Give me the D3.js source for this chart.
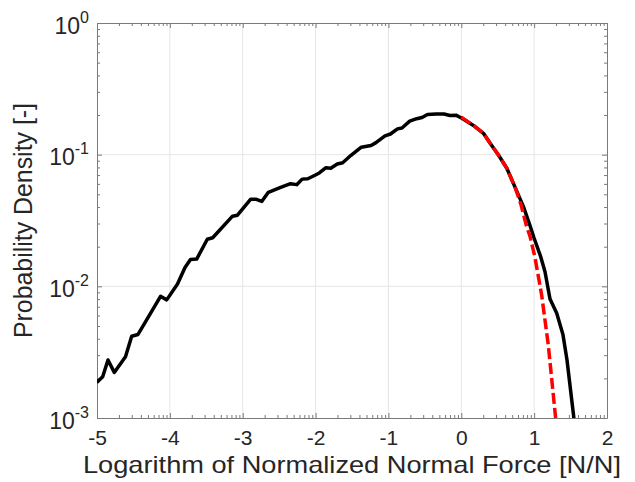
<!DOCTYPE html>
<html>
<head>
<meta charset="utf-8">
<script src="https://cdn.jsdelivr.net/npm/d3@7"></script>
<style>
  html, body { margin: 0; padding: 0; background: #fff; }
  svg { display: block; }
  text { font-family: "Liberation Sans", Arial, Helvetica, sans-serif; fill: #262626; }
</style>
</head>
<body>
<svg id="chart" width="635" height="482"></svg>
<script>
// ---- data ----
const measuredX = [-5.004,-4.922,-4.849,-4.763,-4.609,-4.524,-4.437,-4.341,-4.128,-4.043,-3.895,-3.792,-3.717,-3.632,-3.486,-3.412,-3.140,-3.072,-2.890,-2.822,-2.739,-2.648,-2.488,-2.344,-2.259,-2.184,-2.107,-2.008,-1.949,-1.857,-1.792,-1.702,-1.628,-1.514,-1.372,-1.239,-1.171,-1.047,-0.972,-0.876,-0.814,-0.708,-0.612,-0.539,-0.464,-0.347,-0.237,-0.155,-0.073,0.008,0.167,0.304,0.396,0.510,0.625,0.739,0.853,0.943,1.000,1.090,1.149,1.218,1.310,1.396,1.451,1.550];
const measuredY = [0.00186,0.00206,0.00276,0.00222,0.00292,0.00418,0.00431,0.0053,0.0084,0.00789,0.0104,0.0139,0.0160,0.0161,0.0228,0.0234,0.0341,0.0347,0.0459,0.0459,0.0441,0.0518,0.0561,0.0602,0.0592,0.0652,0.0656,0.0698,0.0726,0.0796,0.0788,0.0849,0.0869,0.0989,0.114,0.1175,0.1234,0.139,0.1436,0.157,0.1595,0.1796,0.1876,0.1916,0.2018,0.2038,0.2038,0.1985,0.1995,0.189,0.1666,0.1453,0.122,0.0995,0.0788,0.0564,0.0403,0.029,0.0232,0.0168,0.0129,0.0080,0.00625,0.00428,0.00276,0.00095];
const fitX = [0.000,0.167,0.304,0.396,0.510,0.625,0.739,0.821,0.890,0.945,1.011,1.103,1.194,1.295,1.320];
const fitY = [0.193,0.1666,0.1453,0.122,0.0995,0.0788,0.0564,0.0415,0.0293,0.0238,0.0166,0.0086,0.00359,0.0010,0.0008];
const xTicks = [-5,-4,-3,-2,-1,0,1,2];
const yTicks = [1e-3,1e-2,1e-1,1];
const yTickExps = ["-3","-2","-1","0"];
const xLabel = "Logarithm of Normalized Normal Force [N/N]";
const yLabel = "Probability Density [-]";

// ---- layout ----
const L = 97, T = 23, W = 510, H = 395;
const axisColor = "#7a7a7a";
const svg = d3.select("#chart");

const x = d3.scaleLinear().domain([-5, 2]).range([L, L + W]);
const y = d3.scaleLog().domain([1e-3, 1]).range([T + H, T]);

// grid
const grid = svg.append("g");
grid.selectAll("line.gx").data(xTicks.slice(1, -1)).join("line")
  .attr("x1", d => x(d)).attr("x2", d => x(d)).attr("y1", T).attr("y2", T + H)
  .attr("stroke", "#e6e6e6").attr("stroke-width", 1);
grid.selectAll("line.gy").data(yTicks.slice(1, -1)).join("line")
  .attr("y1", d => y(d)).attr("y2", d => y(d)).attr("x1", L).attr("x2", L + W)
  .attr("stroke", "#e6e6e6").attr("stroke-width", 1);

// minor ticks
const xMinor = [];
for (let k = -5; k < 2; k++) for (let m = 2; m <= 9; m++) xMinor.push(k + Math.log10(m));
const yMinor = [];
for (let e = -3; e < 0; e++) for (let m = 2; m <= 9; m++) yMinor.push(m * Math.pow(10, e));

function styleAxis(g) {
  g.selectAll("path.domain").attr("stroke", axisColor).attr("stroke-width", 1);
  g.selectAll(".tick line").attr("stroke", axisColor).attr("stroke-width", 1);
}

// x axes
const gxb = svg.append("g").attr("transform", `translate(0,${T + H})`)
  .call(d3.axisBottom(x).tickValues(xTicks).tickSizeInner(-5).tickSizeOuter(0)
    .tickPadding(12).tickFormat(d => String(d)));
gxb.selectAll("text").attr("font-size", 21).attr("fill", "#262626")
  .style("font-family", '"Liberation Sans", Arial, sans-serif');
styleAxis(gxb);
svg.append("g").attr("transform", `translate(0,${T + H})`)
  .call(d3.axisBottom(x).tickValues(xMinor).tickSizeInner(-3).tickSizeOuter(0).tickFormat(""))
  .call(styleAxis).select("path.domain").remove();

const gxt = svg.append("g").attr("transform", `translate(0,${T})`)
  .call(d3.axisTop(x).tickValues(xTicks).tickSizeInner(-5).tickSizeOuter(0).tickFormat(""));
styleAxis(gxt);
svg.append("g").attr("transform", `translate(0,${T})`)
  .call(d3.axisTop(x).tickValues(xMinor).tickSizeInner(-3).tickSizeOuter(0).tickFormat(""))
  .call(styleAxis).select("path.domain").remove();

// y axes
const gyl = svg.append("g").attr("transform", `translate(${L},0)`)
  .call(d3.axisLeft(y).tickValues(yTicks).tickSizeInner(-5).tickSizeOuter(0).tickFormat(""));
styleAxis(gyl);
svg.append("g").attr("transform", `translate(${L},0)`)
  .call(d3.axisLeft(y).tickValues(yMinor).tickSizeInner(-3).tickSizeOuter(0).tickFormat(""))
  .call(styleAxis).select("path.domain").remove();
const gyr = svg.append("g").attr("transform", `translate(${L + W},0)`)
  .call(d3.axisRight(y).tickValues(yTicks).tickSizeInner(-5).tickSizeOuter(0).tickFormat(""));
styleAxis(gyr);
svg.append("g").attr("transform", `translate(${L + W},0)`)
  .call(d3.axisRight(y).tickValues(yMinor).tickSizeInner(-3).tickSizeOuter(0).tickFormat(""))
  .call(styleAxis).select("path.domain").remove();

// y tick labels with superscripts
gyl.selectAll(".tick").each(function(d) {
  const t = d3.select(this).append("text")
    .attr("x", -8).attr("y", 10).attr("text-anchor", "end")
    .attr("font-size", 23).attr("fill", "#262626");
  t.append("tspan").text("10");
  t.append("tspan").attr("dy", -11).attr("font-size", 16).text(yTickExps[yTicks.indexOf(d)]);
});

// clip
svg.append("clipPath").attr("id", "clip").append("rect")
  .attr("x", L).attr("y", T).attr("width", W).attr("height", H);

const line = d3.line().x(d => x(d[0])).y(d => y(d[1]));
svg.append("path").attr("clip-path", "url(#clip)")
  .datum(measuredX.map((v, i) => [v, measuredY[i]]))
  .attr("d", line).attr("fill", "none").attr("stroke", "#000")
  .attr("stroke-width", 3.5).attr("stroke-linejoin", "round");
svg.append("path").attr("clip-path", "url(#clip)")
  .datum(fitX.map((v, i) => [v, fitY[i]]))
  .attr("d", line).attr("fill", "none").attr("stroke", "#ff0000")
  .attr("stroke-width", 3.5).attr("stroke-dasharray", "11,4");

// axis labels
svg.append("text").attr("x", x(-1.5)).attr("y", 473).attr("text-anchor", "middle")
  .attr("font-size", 24).attr("textLength", 538).attr("lengthAdjust", "spacingAndGlyphs").text(xLabel);
svg.append("text").attr("transform", `translate(32,${T + H / 2}) rotate(-90)`)
  .attr("text-anchor", "middle").attr("font-size", 25)
  .attr("textLength", 235).attr("lengthAdjust", "spacingAndGlyphs").text(yLabel);
</script>
</body>
</html>
